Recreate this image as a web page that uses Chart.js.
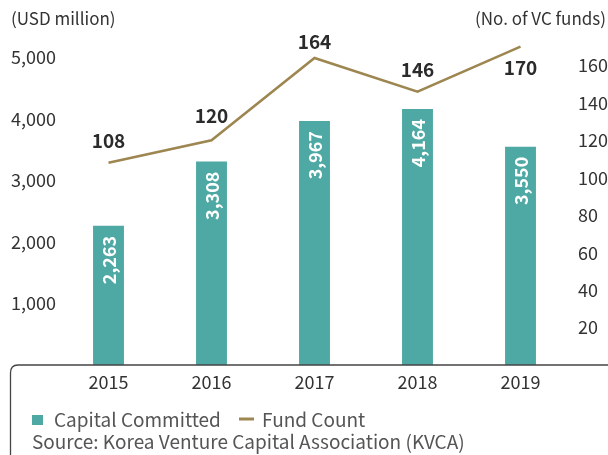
<!DOCTYPE html>
<html>
<head>
<meta charset="utf-8">
<script src="https://cdn.jsdelivr.net/npm/chart.js@4/dist/chart.umd.min.js"></script>
<style>
  html, body { margin: 0; padding: 0; background: #fff; }
  #wrap { position: relative; width: 608px; height: 455px; }
</style>
</head>
<body>
<div id="wrap"><canvas id="chart" width="608" height="455"></canvas></div>
<script>
const years = ["2015", "2016", "2017", "2018", "2019"];
const capitalCommitted = [2263, 3308, 3967, 4164, 3550];
const fundCount = [108, 120, 164, 146, 170];
const leftTicks = [1000, 2000, 3000, 4000, 5000];
const rightTicks = [20, 40, 60, 80, 100, 120, 140, 160];

const FONT = "'Noto Sans CJK KR', 'Noto Sans', sans-serif";
const TEAL = "#4ea8a3";
const GOLD = "#9d8650";
const GREY = "#555555";

// label offset from the point (negative = above)
const lineLabelOffset = [-22, -25, -16, -22, 21];

const fmt = (v) => v.toLocaleString("en-US");

const decorPlugin = {
    id: "decor",
    afterDatasetsDraw(chart) {
        const ctx = chart.ctx;
        const y0 = chart.scales.y.getPixelForValue(0);

        // axis line with rounded corner going down the left side
        ctx.save();
        ctx.strokeStyle = "#444";
        ctx.lineWidth = 1.3;
        ctx.beginPath();
        ctx.moveTo(608, y0);
        ctx.lineTo(18, y0);
        ctx.quadraticCurveTo(10.5, y0, 10.5, y0 + 8);
        ctx.lineTo(10.5, 455);
        ctx.stroke();
        ctx.restore();

        // bar value labels (rotated)
        const barMeta = chart.getDatasetMeta(0);
        ctx.save();
        ctx.fillStyle = "#fff";
        ctx.font = "bold 18px " + FONT;
        ctx.textAlign = "right";
        ctx.textBaseline = "middle";
        barMeta.data.forEach((bar, i) => {
            ctx.save();
            ctx.translate(bar.x + 1, bar.y + 10);
            ctx.rotate(-Math.PI / 2);
            ctx.fillText(fmt(capitalCommitted[i]), 0, 0);
            ctx.restore();
        });
        ctx.restore();

        // line value labels
        const lineMeta = chart.getDatasetMeta(1);
        ctx.save();
        ctx.fillStyle = "#2b2b2b";
        ctx.font = "bold 19px " + FONT;
        ctx.textAlign = "center";
        ctx.textBaseline = "middle";
        lineMeta.data.forEach((pt, i) => {
            ctx.fillText(String(fundCount[i]), pt.x, pt.y + lineLabelOffset[i]);
        });
        ctx.restore();

        // axis titles
        ctx.save();
        ctx.fillStyle = "#333";
        ctx.font = "17px " + FONT;
        ctx.textBaseline = "middle";
        ctx.textAlign = "left";
        ctx.fillText("(USD million)", 11, 19);
        ctx.textAlign = "right";
        ctx.fillText("(No. of VC funds)", 606, 19);
        ctx.restore();

        // legend + source
        ctx.save();
        ctx.fillStyle = TEAL;
        ctx.fillRect(32, 415, 11, 10);
        ctx.strokeStyle = GOLD;
        ctx.lineWidth = 3;
        ctx.beginPath();
        ctx.moveTo(239, 419);
        ctx.lineTo(254, 419);
        ctx.stroke();
        ctx.fillStyle = GREY;
        ctx.font = "19px " + FONT;
        ctx.textAlign = "left";
        ctx.textBaseline = "middle";
        ctx.fillText("Capital Committed", 54, 420);
        ctx.fillText("Fund Count", 262, 420);
        ctx.fillText("Source: Korea Venture Capital Association (KVCA)", 32, 442);
        ctx.restore();
    }
};

new Chart(document.getElementById("chart"), {
    data: {
        labels: years,
        datasets: [
            {
                type: "bar",
                label: "Capital Committed",
                data: capitalCommitted,
                backgroundColor: TEAL,
                barPercentage: 0.3,
                categoryPercentage: 1,
                yAxisID: "y",
                order: 2
            },
            {
                type: "line",
                label: "Fund Count",
                data: fundCount,
                borderColor: GOLD,
                borderWidth: 2.5,
                pointRadius: 0,
                tension: 0,
                yAxisID: "y1",
                order: 1
            }
        ]
    },
    options: {
        responsive: false,
        animation: false,
        layout: { padding: { top: 28, left: 0, right: 0, bottom: 0 } },
        plugins: { legend: { display: false }, tooltip: { enabled: false } },
        scales: {
            x: {
                grid: { display: false, drawTicks: false },
                border: { display: false },
                ticks: { color: "#333", font: { family: FONT, size: 18 }, padding: 6 },
                afterFit: (s) => { s.height = 90; }
            },
            y: {
                position: "left",
                min: 0,
                max: 5480,
                grid: { display: false, drawTicks: false },
                border: { display: false },
                afterBuildTicks: (s) => { s.ticks = leftTicks.map(v => ({ value: v })); },
                ticks: { color: "#333", font: { family: FONT, size: 18 }, padding: 1, callback: (v) => fmt(v) },
                afterFit: (s) => { s.width = 57; }
            },
            y1: {
                position: "right",
                min: 0,
                max: 180,
                grid: { display: false, drawTicks: false },
                border: { display: false },
                afterBuildTicks: (s) => { s.ticks = rightTicks.map(v => ({ value: v })); },
                ticks: { color: "#333", font: { family: FONT, size: 18 }, padding: 6 },
                afterFit: (s) => { s.width = 36; }
            }
        }
    },
    plugins: [decorPlugin]
});
</script>
</body>
</html>
